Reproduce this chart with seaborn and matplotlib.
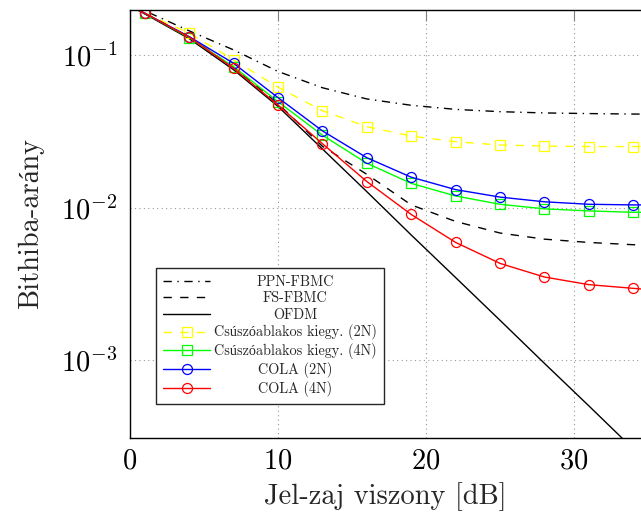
import matplotlib
matplotlib.use("Agg")
import matplotlib.pyplot as plt
from matplotlib.ticker import NullLocator
import seaborn as sns

# Signal-to-noise ratio grid (dB); markers are shown from 1 dB to 34 dB
snr_db = [0, 1, 4, 7, 10, 13, 16, 19, 22, 25, 28, 31, 34, 35]

# Bit error rates
ber_ppn_fbmc = [0.215, 0.195, 0.144, 0.108, 0.078, 0.061, 0.0515, 0.0468,
                0.0440, 0.0425, 0.0417, 0.0413, 0.0410, 0.0410]
ber_fs_fbmc = [0.21, 0.187, 0.131, 0.083, 0.048, 0.0252, 0.0165, 0.0104,
               0.0081, 0.0068, 0.0062, 0.0059, 0.0057, 0.0057]
ber_ofdm = [0.21, 0.186, 0.128, 0.080, 0.046, 0.0242, 0.0127, 0.0066,
            0.00347, 0.00182, 0.00095, 0.00050, 0.000261, 0.000211]
ber_sw_2n = [0.21, 0.188, 0.139, 0.0930, 0.0614, 0.0431, 0.0339, 0.0294,
             0.0270, 0.0257, 0.0253, 0.0251, 0.0251, 0.0251]
ber_sw_4n = [0.21, 0.188, 0.130, 0.0838, 0.0494, 0.0298, 0.0195, 0.0144,
             0.0119, 0.0105, 0.0098, 0.0095, 0.0093, 0.0093]
ber_cola_2n = [0.21, 0.188, 0.132, 0.0882, 0.0525, 0.0318, 0.0212, 0.0158,
               0.0131, 0.0117, 0.0109, 0.0105, 0.0104, 0.0104]
ber_cola_4n = [0.21, 0.188, 0.131, 0.0818, 0.0470, 0.0262, 0.0148, 0.0090,
               0.0059, 0.0043, 0.0035, 0.00312, 0.00295, 0.0029]

series_labels = ["PPN-FBMC", "FS-FBMC", "OFDM",
                 "Csúszóablakos kiegy. (2N)", "Csúszóablakos kiegy. (4N)",
                 "COLA (2N)", "COLA (4N)"]

sns.set_style("white")
plt.rcParams.update({
    "font.family": ["cmr10", "Liberation Serif"],
    "mathtext.fontset": "cm",
    "axes.formatter.use_mathtext": True,
    "axes.unicode_minus": True,
})

W, H = 641, 521
fig = plt.figure(figsize=(W / 100, H / 100), dpi=100)
ax = fig.add_axes([130 / W, 83 / H, 511 / W, 428.5 / H])
ax.set_yscale("log")

styles = [
    dict(color="black", linestyle=(0, (6, 4, 1, 4)), marker=None),
    dict(color="black", linestyle=(0, (6, 6)), marker=None),
    dict(color="black", linestyle="-", marker=None),
    dict(color="#ffff00", linestyle=(0, (6, 6)), marker="s"),
    dict(color="#00ff00", linestyle="-", marker="s"),
    dict(color="#0000ff", linestyle="-", marker="o"),
    dict(color="#ff0000", linestyle="-", marker="o"),
]
series = [ber_ppn_fbmc, ber_fs_fbmc, ber_ofdm, ber_sw_2n, ber_sw_4n,
          ber_cola_2n, ber_cola_4n]

handles = []
for ber, label, st in zip(series, series_labels, styles):
    kw = dict(color=st["color"], linestyle=st["linestyle"], linewidth=1.0,
              label=label)
    if st["marker"] is not None:
        kw.update(marker=st["marker"], markersize=7.2, markerfacecolor="none",
                  markeredgecolor=st["color"], markeredgewidth=0.9,
                  markevery=slice(1, -1))
    sns.lineplot(x=snr_db, y=ber, ax=ax, errorbar=None, estimator=None,
                 legend=False, **kw)
    handles.append(ax.lines[-1])

ax.set_xlim(0, 34.52)
ax.set_ylim(3.08e-4, 0.1988)
ax.set_xticks([0, 10, 20, 30])
ax.yaxis.set_minor_locator(NullLocator())
ax.xaxis.set_minor_locator(NullLocator())

ax.grid(True, which="major", color="0.6", linewidth=0.8,
        linestyle=(0, (1, 3)))
ax.set_axisbelow(True)

for side in ["left", "bottom", "top"]:
    ax.spines[side].set_color("black")
    ax.spines[side].set_linewidth(1.0)
ax.spines["right"].set_visible(False)

ax.tick_params(axis="both", which="major", direction="in", length=8,
               width=0.8, color="0.5", labelsize=20.5, labelcolor="black",
               top=True, right=False)
ax.tick_params(axis="x", pad=7)
ax.tick_params(axis="y", pad=9)

ax.set_xlabel("Jel-zaj viszony [dB]", fontsize=20.5, labelpad=6)
ax.set_ylabel("Bithiba-arány", fontsize=20.5, labelpad=12)

leg = ax.legend(handles=handles, labels=series_labels, loc="lower left",
                bbox_to_anchor=(0.051, 0.079), borderaxespad=0,
                fontsize=10.25, frameon=True, fancybox=False, framealpha=1,
                edgecolor="0.15", handlelength=3.3, handletextpad=0.25,
                labelspacing=0.2, borderpad=0.5, numpoints=1)
leg.get_frame().set_linewidth(1.0)

# centre each legend entry's text within the text column
fig.canvas.draw()
renderer = fig.canvas.get_renderer()
texts = leg.get_texts()
widths = [t.get_window_extent(renderer).width for t in texts]
wmax = max(widths)
for t, w in zip(texts, widths):
    t.set_x((wmax - w) / 2)

fig.savefig("out.png", dpi=100)
